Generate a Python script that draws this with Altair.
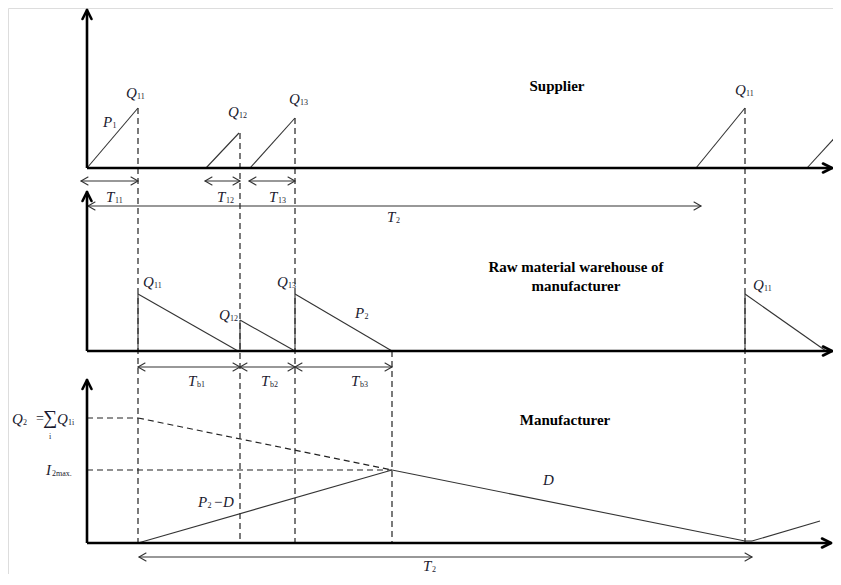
import altair as alt
import pandas as pd

# ---------------- data (reference pixel coordinates) ----------------
# plotting frame
X0, X1 = 8, 833
Y0, Y1 = 8, 574

# three panels: supplier, raw material warehouse, manufacturer
axis_x = 87
axis_tops = [10, 192, 380]
baselines = [168, 351, 543]
axis_ends = [832, 832, 831]

# supplier production ramps (start x on baseline, end x, top y)
ramp_x0 = [87, 206, 250, 696, 807]
ramp_x1 = [138, 239, 295, 745, 840]
ramp_top = [108, 133, 118, 108, 132]

# warehouse inventory drops (x of jump, top y, x where it reaches zero)
drop_x = [138, 240, 295, 745]
drop_top = [294, 320, 294, 294]
drop_end = [238, 295, 392, 826]

# vertical dashed guides
guide_x = [138, 240, 295, 392, 745]
guide_top = [108, 133, 118, 351, 108]
guide_bottom = 543

# dimension arrows
dim_x0 = [81, 205, 249, 88, 138, 240, 295, 139]
dim_x1 = [138, 240, 295, 701, 240, 295, 392, 752]
dim_y = [181, 181, 181, 206, 367, 367, 367, 557]

# manufacturer inventory
inv_x = [138, 392, 745, 752, 820]
inv_y = [543, 470, 541, 541, 521]
q2_level = 418
i2max_level = 470
dash_path_x = [87, 138, 392]
dash_path_y = [418, 418, 470]

# subscripted labels
lab_main = ["Q", "Q", "Q", "Q", "P",
            "Q", "Q", "Q", "Q", "P",
            "T", "T", "T", "T",
            "T", "T", "T", "T",
            "P", "D", "I", "Q", "Q"]
lab_sub = ["11", "12", "13", "11", "1",
           "11", "12", "13", "11", "2",
           "11", "12", "13", "2",
           "b1", "b2", "b3", "2",
           "2", "", "2max.", "2", "1i"]
lab_x = [126, 228, 289, 735, 103,
         143, 219, 277, 753, 355,
         106, 217, 269, 387,
         188, 261, 351, 423,
         198, 543, 46, 12, 57]
lab_y = [93, 112, 99, 90, 122,
         282, 315, 282, 285, 313,
         197, 197, 197, 217,
         381, 381, 381, 566,
         502, 480, 470, 419, 419]

# bold panel titles
title_text = ["Supplier", "Raw material warehouse of", "manufacturer", "Manufacturer"]
title_x = [557, 576, 576, 565]
title_y = [86, 267, 286, 420]

# ---------------- build tables ----------------
thick, thin, dashed, thick_heads, thin_heads = [], [], [], [], []


def seg(lst, xa, ya, xb, yb):
    lst.append(dict(x=xa, y=ya, x2=xb, y2=yb))


def head(lst, tx, ty, dx, dy, L, W):
    # chevron arrow head at tip (tx, ty) pointing in direction (dx, dy)
    px, py = -dy, dx
    seg(lst, tx, ty, tx - L * dx + W * px, ty - L * dy + W * py)
    seg(lst, tx, ty, tx - L * dx - W * px, ty - L * dy - W * py)


for top, base, end in zip(axis_tops, baselines, axis_ends):
    seg(thick, axis_x, base, axis_x, top + 1)
    seg(thick, axis_x, base, end - 1, base)
    head(thick_heads, axis_x, top, 0, -1, 9, 4.5)
    head(thick_heads, end, base, 1, 0, 9, 4.5)

for a, b, t in zip(ramp_x0, ramp_x1, ramp_top):
    seg(thin, a, baselines[0], b, t)

for x, t, e in zip(drop_x, drop_top, drop_end):
    seg(thin, x, baselines[1], x, t)
    seg(thin, x, t, e, baselines[1])

for x, t in zip(guide_x, guide_top):
    seg(dashed, x, t, x, guide_bottom)

for a, b, y in zip(dim_x0, dim_x1, dim_y):
    seg(thin, a, y, b, y)
    head(thin_heads, a, y, -1, 0, 7, 4)
    head(thin_heads, b, y, 1, 0, 7, 4)

for i in range(len(inv_x) - 1):
    seg(thin, inv_x[i], inv_y[i], inv_x[i + 1], inv_y[i + 1])

for i in range(len(dash_path_x) - 1):
    seg(dashed, dash_path_x[i], dash_path_y[i], dash_path_x[i + 1], dash_path_y[i + 1])
seg(dashed, axis_x, i2max_level, inv_x[1], i2max_level)

main_w = {"Q": 10.5, "T": 8.5, "P": 9.0, "I": 5.5, "D": 10.5}
italic_rows, sub_rows = [], []
for m, s, x, y in zip(lab_main, lab_sub, lab_x, lab_y):
    italic_rows.append(dict(t=m, x=x, y=y))
    if s:
        sub_rows.append(dict(t=s, x=x + main_w[m] + 0.5, y=y + 4))
# extra pieces of formulas
italic_rows.append(dict(t="\u2212D", x=lab_x[18] + 15, y=lab_y[18]))
plain_rows = [dict(t="=", x=36, y=419, s=14), dict(t="\u2211", x=43, y=418, s=20),
              dict(t="i", x=49, y=437, s=8)]

titles = pd.DataFrame(dict(t=title_text, x=title_x, y=title_y))

# ---------------- chart ----------------
xs = alt.Scale(domain=[X0, X1], nice=False, zero=False)
ys = alt.Scale(domain=[Y0, Y1], nice=False, zero=False, reverse=True)


def rules(rows, width, color, dash=None, cap="butt"):
    kw = dict(strokeWidth=width, color=color, strokeCap=cap)
    if dash:
        kw["strokeDash"] = dash
    return alt.Chart(pd.DataFrame(rows)).mark_rule(**kw).encode(
        x=alt.X("x:Q", scale=xs, axis=None),
        y=alt.Y("y:Q", scale=ys, axis=None),
        x2="x2:Q", y2="y2:Q")


def texts(df, size, style="normal", weight="normal", align="left", color="#111", font="Liberation Serif"):
    return alt.Chart(df).mark_text(fontSize=size, fontStyle=style, fontWeight=weight, align=align,
                                   baseline="middle", font=font, color=color).encode(
        x=alt.X("x:Q", scale=xs, axis=None),
        y=alt.Y("y:Q", scale=ys, axis=None),
        text="t:N")


plain_df = pd.DataFrame(plain_rows)
layers = [
    rules(dashed, 1.2, "#222", dash=[6, 4]),
    rules(thin, 1.1, "#333"),
    rules(thin_heads, 1.1, "#333", cap="round"),
    rules(thick, 2.6, "#000"),
    rules(thick_heads, 2.6, "#000", cap="round"),
    texts(pd.DataFrame(italic_rows), 15, style="italic", color="#1a1a2e"),
    texts(pd.DataFrame(sub_rows), 8, color="#1a1a2e"),
    texts(titles, 15, weight="bold", align="center", color="#000"),
]
for s in sorted(set(plain_df["s"])):
    layers.append(texts(plain_df[plain_df["s"] == s], int(s), color="#1a1a2e"))

chart = alt.layer(*layers).properties(
    width=X1 - X0, height=Y1 - Y0, padding=0,
    autosize=alt.AutoSizeParams(type="none"),
).configure_view(strokeWidth=0).configure(background="white")

chart.save("out.html", embed_options={"renderer": "svg", "actions": False})
